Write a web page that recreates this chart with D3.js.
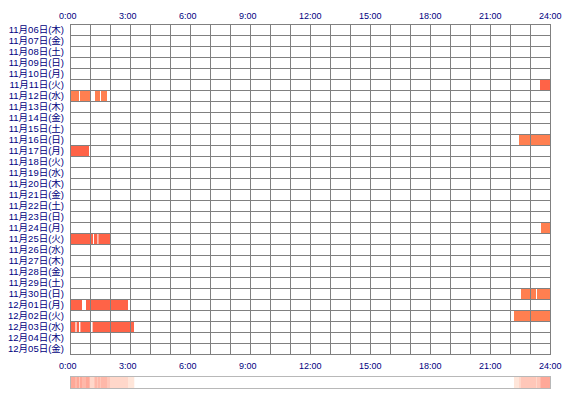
<!DOCTYPE html>
<html><head><meta charset="utf-8">
<script src="https://cdn.jsdelivr.net/npm/d3@7"></script>
<style>
html,body{margin:0;padding:0;background:#fff;}
svg{display:block;}
</style></head>
<body>
<svg id="chart" width="570" height="400"></svg>
<script>
// ---- data ----
const days = ["11月06日(木)","11月07日(金)","11月08日(土)","11月09日(日)","11月10日(月)","11月11日(火)","11月12日(水)","11月13日(木)","11月14日(金)","11月15日(土)","11月16日(日)","11月17日(月)","11月18日(火)","11月19日(水)","11月20日(木)","11月21日(金)","11月22日(土)","11月23日(日)","11月24日(月)","11月25日(火)","11月26日(水)","11月27日(木)","11月28日(金)","11月29日(土)","11月30日(日)","12月01日(月)","12月02日(火)","12月03日(水)","12月04日(木)","12月05日(金)"];
const hourTicks = [0,3,6,9,12,15,18,21,24];
const hourLabels = ["0:00","3:00","6:00","9:00","12:00","15:00","18:00","21:00","24:00"];
// sleep segments: day, start hour, end hour, kind
const segDay   = ["11月11日(火)","11月12日(水)","11月12日(水)","11月12日(水)","11月12日(水)","11月16日(日)","11月17日(月)","11月24日(月)","11月25日(火)","11月25日(火)","11月25日(火)","11月30日(日)","11月30日(日)","12月01日(月)","12月01日(月)","12月02日(火)","12月03日(水)","12月03日(水)","12月03日(水)","12月03日(水)"];
const segStart = [23.5, 0.0, 0.5, 1.25, 1.55, 22.45, 0.0, 23.55, 0.0, 1.2, 1.42, 22.55, 23.35, 0.0, 0.8, 22.2, 0.0, 0.33, 0.52, 1.13];
const segEnd   = [24.0, 0.45, 1.0, 1.5, 1.85, 24.0, 0.95, 24.0, 1.15, 1.37, 2.0, 23.3, 24.0, 0.6, 2.9, 24.0, 0.27, 0.45, 1.0, 3.2];
const segKind  = ["a","b","b","b","b","b","a","b","a","a","a","b","b","a","a","b","a","a","a","a"];

const segments = segDay.map((d,i)=>({day:d,start:segStart[i],end:segEnd[i],kind:segKind[i]}));

const svg = d3.select("#chart");
const textColor = "#000080";
const gridColor = "#808080";
const fontNum = "'Liberation Sans', Arial, sans-serif";
const fontJP = "'Liberation Sans', 'Noto Sans CJK JP', sans-serif";

const x = d3.scaleLinear().domain([0,24]).range([70,550]);
const y = d3.scaleBand().domain(days).range([24,354]).paddingInner(0).paddingOuter(0);

// bars
const kindColor = {a:"#ff6347", b:"#ff7f50"};
svg.append("g").selectAll("rect").data(segments).join("rect")
  .attr("x", d=>x(d.start))
  .attr("y", d=>y(d.day))
  .attr("width", d=>x(d.end)-x(d.start))
  .attr("height", y.bandwidth())
  .attr("fill", d=>kindColor[d.kind]);

// grid
const grid = svg.append("g").attr("stroke", gridColor).attr("stroke-width",1).attr("shape-rendering","crispEdges");
const hours = d3.range(0,25);
grid.selectAll("line.v").data(hours).join("line").attr("class","v")
  .attr("x1", d=>Math.round(x(d))+0.5).attr("x2", d=>Math.round(x(d))+0.5)
  .attr("y1", 24).attr("y2", 354);
const rowEdges = days.map(d=>y(d)).concat([y.range()[1]]);
grid.selectAll("line.h").data(rowEdges).join("line").attr("class","h")
  .attr("x1", 70).attr("x2", 551)
  .attr("y1", d=>Math.round(d)+0.5).attr("y2", d=>Math.round(d)+0.5);

// row labels
svg.append("g").selectAll("text").data(days).join("text")
  .attr("x", 64)
  .attr("y", d=>y(d)+y.bandwidth()/2)
  .attr("dy","0.36em")
  .attr("text-anchor","end")
  .attr("font-family", fontJP)
  .attr("font-size", "9.5px")
  .attr("fill", textColor)
  .text(d=>d);

// top & bottom hour labels
function hourAxis(yPos){
  svg.append("g").selectAll("text").data(hourTicks).join("text")
    .attr("x", d=>x(d)-11)
    .attr("y", yPos)
    .attr("text-anchor","start")
    .attr("font-family", fontNum)
    .attr("font-size","9px")
    .attr("fill", textColor)
    .text((d,i)=>hourLabels[i]);
}
hourAxis(19);
hourAxis(369);

// bottom frequency strip derived from segments
const step = 1/20;
const bins = d3.range(0,24,step).map(h=>{
  const mid = h + step/2;
  const c = segments.filter(s=>mid>=s.start && mid<s.end);
  return {h, count: new Set(c.map(s=>s.day)).size};
});
const maxC = d3.max(bins, b=>b.count);
const heat = d3.scaleLinear().domain([0,1,maxC]).range(["#ffffff","#ffe6da","#ffa898"]);
svg.append("g").selectAll("rect").data(bins.filter(b=>b.count>0)).join("rect")
  .attr("x", b=>x(b.h)).attr("y",376)
  .attr("width", b=>x(b.h+step)-x(b.h)+0.3).attr("height",12)
  .attr("fill", b=>heat(b.count));
svg.append("rect").attr("x",70.5).attr("y",376.5).attr("width",480).attr("height",12)
  .attr("fill","none").attr("stroke","#b8b8b8");
</script>
</body></html>
